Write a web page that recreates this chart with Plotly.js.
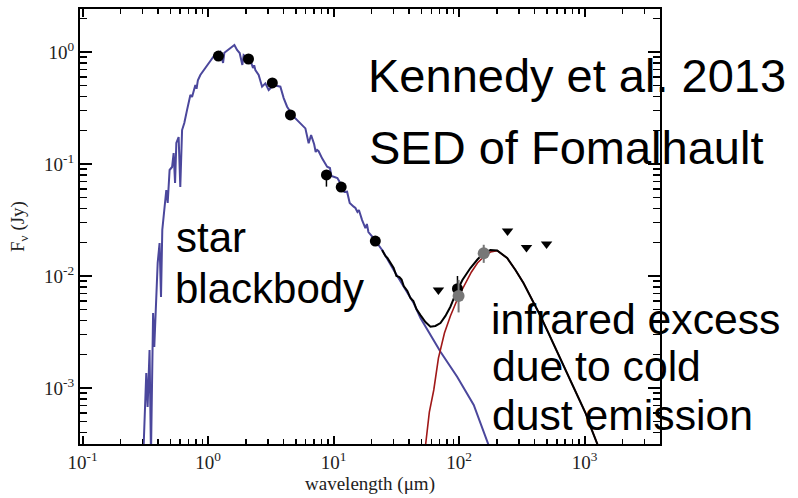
<!DOCTYPE html>
<html>
<head>
<meta charset="utf-8">
<script src="https://cdn.plot.ly/plotly-3.0.1.min.js"></script>
<style>html,body{margin:0;padding:0;background:#fff;}#chart{width:798px;height:498px;}</style>
</head>
<body>
<div id="chart"></div>
<script>
// Stellar photosphere model (purple)
const starWave = [0.305,0.322,0.330,0.342,0.351,0.365,0.373,0.387,0.397,0.411,0.422,0.432,0.448,0.465,0.477,0.494,0.517,0.532,0.546,0.559,0.583,0.601,0.621,0.647,0.680,0.723,0.746,0.792,0.81,0.83,0.868,0.952,1.043,1.143,1.253,1.317,1.349,1.486,1.621,1.702,1.786,1.876,1.921,2.173,2.28,2.33,2.381,2.530,2.693,2.861,3.040,3.332,3.768,4.003,4.262,4.810,5.44,5.96,6.33,6.62,7.0,7.2,7.39,7.6,8.10,8.88,9.35,9.60,10.02,10.72,11.33,12.19,12.81,13.44,14.46,14.92,15.48,15.91,16.87,17.92,18.42,18.94,20.87,24.35,30.1,36.2,43.5,49.2,71.0,96.4,130.7,177.6];
const starFlux = [2.52e-4,1.36e-3,6.76e-4,2.18e-3,2.52e-4,4.67e-3,2.32e-3,7.50e-3,0.0131,0.0197,6.49e-3,0.0258,0.0388,0.0586,0.0449,0.0884,0.094,0.125,0.0677,0.154,0.174,0.0623,0.201,0.232,0.303,0.413,0.397,0.507,0.47,0.56,0.623,0.720,0.848,0.960,1.006,0.798,0.986,1.079,1.155,1.042,0.980,0.766,0.940,0.848,0.72,0.76,0.691,0.623,0.490,0.525,0.458,0.507,0.490,0.388,0.325,0.2645,0.231,0.208,0.153,0.1815,0.150,0.128,0.1334,0.130,0.1124,0.0945,0.0921,0.0781,0.077,0.0750,0.0673,0.0562,0.0566,0.0449,0.0416,0.0405,0.0373,0.0388,0.0316,0.0268,0.0291,0.0247,0.0217,0.01706,0.01132,8.03e-3,5.71e-3,4.22e-3,2.11e-3,1.26e-3,7.05e-4,2.79e-4];

// Cold dust emission (red)
const dustWave = [52.9,57.9,62.8,68.4,76.4,85.2,98.7,112.3,125.3,139.9,157.0,177.6,200.8,241.3,280.9,325.4,376.8,444.6,514.6,596.2,677.9,770.7,876.2,1015,1133,1258,1336];
const dustFlux = [2.52e-4,6.1e-4,9.6e-4,1.85e-3,3.10e-3,4.40e-3,6.53e-3,8.66e-3,0.01086,0.01306,0.01486,0.01638,0.01682,0.01448,0.01131,8.66e-3,6.36e-3,4.39e-3,3.10e-3,2.18e-3,1.60e-3,1.18e-3,8.49e-4,5.98e-4,4.30e-4,3.16e-4,2.68e-4];

// Total model (black)
const totWave = [24.35,25.86,26.83,28.35,30.1,31.65,33.44,34.8,35.4,36.2,38.7,40.9,43.2,45.7,49.2,53.9,59.1,64.7,71.0,77.8,85.2,95.2,106.2,123.0,139.9,157.0,177.6,200.8,241.3,280.9,325.4,376.8,444.6,514.6,596.2,677.9,770.7,876.2,1015,1133,1258,1336];
const totFlux = [0.01706,0.01509,0.01448,0.01306,0.01179,0.0100,9.80e-3,9.30e-3,8.70e-3,8.14e-3,7.35e-3,6.36e-3,5.98e-3,5.07e-3,4.48e-3,3.88e-3,3.53e-3,3.58e-3,3.80e-3,4.40e-3,5.32e-3,7.20e-3,9.21e-3,0.01179,0.01404,0.01605,0.01706,0.01689,0.01448,0.01131,8.66e-3,6.36e-3,4.39e-3,3.10e-3,2.18e-3,1.60e-3,1.18e-3,8.49e-4,5.98e-4,4.30e-4,3.16e-4,2.68e-4];

// Photometry (black dots)
const photWave = [1.21,2.1,3.25,4.53,8.77,11.5,21.5,97];
const photFlux = [0.92,0.866,0.53,0.274,0.0798,0.0623,0.0205,0.0077];
const photErrPlus = [0,0,0,0,0.005,0,0,0.0023];
const photErrMinus = [0,0,0,0,0.017,0,0,0.0016];

// Photometry (grey dots)
const greyWave = [99,157];
const greyFlux = [0.00663,0.016];
const greyErrPlus = [0.0026,0.003];
const greyErrMinus = [0.0019,0.0029];

// Upper limits (triangles)
const limWave = [68.4,243,344,497];
const limFlux = [0.0075,0.0252,0.018,0.0193];

// Tick labels
const xTickVals = [0.1,1,10,100,1000];
const xTickText = ['10<sup>-1</sup>','10<sup>0</sup>','10<sup>1</sup>','10<sup>2</sup>','10<sup>3</sup>'];
const yTickVals = [0.001,0.01,0.1,1];
const yTickText = ['10<sup>-3</sup>','10<sup>-2</sup>','10<sup>-1</sup>','10<sup>0</sup>'];

function minorVals(d0, d1){
  const out=[];
  for(let d=d0; d<=d1; d++){ for(let k=2;k<=9;k++){ out.push(k*Math.pow(10,d)); } }
  return out;
}

const traces = [
  {x: starWave, y: starFlux, mode:'lines', line:{color:'#4b479c', width:2}, hoverinfo:'skip'},
  {x: dustWave, y: dustFlux, mode:'lines', line:{color:'#a01818', width:1.6}, hoverinfo:'skip'},
  {x: totWave, y: totFlux, mode:'lines', line:{color:'#000000', width:2}, hoverinfo:'skip'},
  {x: photWave, y: photFlux, mode:'markers', marker:{color:'#000', size:11},
   error_y:{type:'data', symmetric:false, array:photErrPlus, arrayminus:photErrMinus, color:'#000', thickness:1.5, width:0}},
  {x: greyWave, y: greyFlux, mode:'markers', marker:{color:'#777', size:12},
   error_y:{type:'data', symmetric:false, array:greyErrPlus, arrayminus:greyErrMinus, color:'#777', thickness:2, width:0}},
  {x: limWave, y: limFlux, mode:'markers', marker:{color:'#000', size:10, symbol:'triangle-down'}}
];

const axisFont = {family:'"Liberation Serif", "Times New Roman", serif', size:19, color:'#222'};
const annFont = {family:'"Liberation Sans", Arial, sans-serif', color:'#000'};
function px2x(px){ return (px-80)/580; }
function py2y(py){ return (444-py)/435; }
function ann(text, px, pyMid, size){
  return {text:text, xref:'paper', yref:'paper', x:px2x(px), y:py2y(pyMid), xanchor:'left', yanchor:'middle',
          showarrow:false, font:Object.assign({size:size}, annFont)};
}

const layout = {
  width:798, height:498,
  margin:{l:80, r:138, t:9, b:54},
  paper_bgcolor:'#fff', plot_bgcolor:'#fff',
  showlegend:false,
  xaxis:{type:'log', range:[-1.02, 3.6], showgrid:false, zeroline:false,
    showline:true, linecolor:'#000', linewidth:2, mirror:'allticks',
    ticks:'inside', ticklen:8, tickwidth:2, tickcolor:'#000',
    tickmode:'array', tickvals:xTickVals, ticktext:xTickText, tickfont:axisFont,
    minor:{tickmode:'array', tickvals:minorVals(-1,3), ticks:'inside', ticklen:5, tickwidth:1.5, tickcolor:'#000', showgrid:false},
    title:{text:'wavelength (μm)', font:axisFont, standoff:4}},
  yaxis:{type:'log', range:[-3.5, 0.384], showgrid:false, zeroline:false,
    showline:true, linecolor:'#000', linewidth:2, mirror:'allticks',
    ticks:'inside', ticklen:12, tickwidth:2, tickcolor:'#000',
    tickmode:'array', tickvals:yTickVals, ticktext:yTickText, tickfont:axisFont,
    minor:{tickmode:'array', tickvals:minorVals(-4,0), ticks:'inside', ticklen:7, tickwidth:1.5, tickcolor:'#000', showgrid:false},
    title:{text:'F<sub>ν</sub> (Jy)', font:axisFont, standoff:14}},
  annotations:[
    ann('Kennedy et al. 2013', 366, 75.5, 47),
    ann('SED of Fomalhault', 367, 147, 47),
    ann('star', 173.5, 237.5, 42),
    ann('blackbody', 172.5, 288.5, 42),
    ann('infrared excess', 488.5, 318.5, 42.7),
    ann('due to cold', 490, 365.5, 42.7),
    ann('dust emission', 490, 414.5, 42.7)
  ]
};

Plotly.newPlot('chart', traces, layout, {staticPlot:true, displayModeBar:false});
</script>
</body>
</html>
